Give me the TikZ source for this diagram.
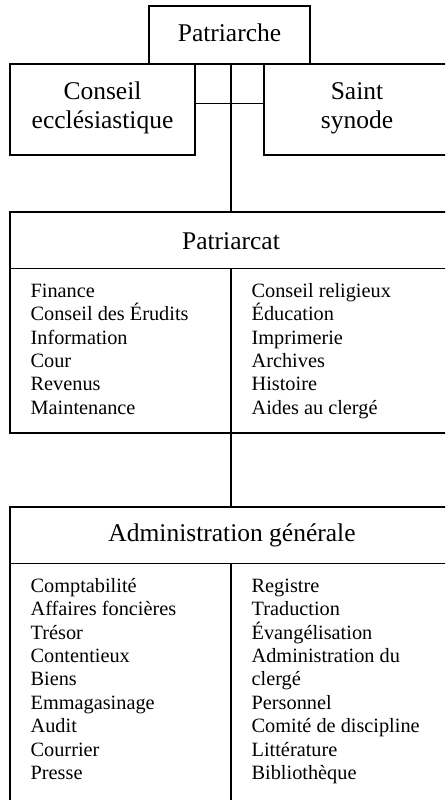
\documentclass[tikz,border=0pt]{standalone}
\usepackage{fontspec}
\setmainfont{Liberation Serif}
\usetikzlibrary{calc}
\begin{document}
\begin{tikzpicture}[x=1pt,y=-1pt,
  line width=1.3pt,
  box/.style={draw, rectangle, inner sep=0pt, outer sep=0pt, anchor=north west},
  hdr/.style={inner sep=0pt, font=\fontsize{25.5}{30}\selectfont, anchor=base},
  itm/.style={inner sep=0pt, font=\fontsize{20.3}{23.4}\selectfont, anchor=base west}]
\useasboundingbox (0,0) rectangle (445,800);
\clip (0,0) rectangle (445,800);
% boxes
\node[box, minimum width=161, minimum height=58] (pat) at (149,6) {};
\node[box, minimum width=185, minimum height=91] (cons) at (10,64) {};
\node[box, minimum width=186, minimum height=91] (syn) at (264,64) {};
\node[box, minimum width=442, minimum height=221] (patc) at (10,212) {};
\node[box, minimum width=442, minimum height=323] (adm) at (10,507) {};
% titles
\node[hdr] (tpat) at (229.5,41.7) {Patriarche};
\node[hdr] (tcons1) at (102.5,99) {Conseil};
\node[hdr] (tcons2) at (102.5,128.5) {ecclésiastique};
\node[hdr] (tsyn1) at (357,99) {Saint};
\node[hdr] (tsyn2) at (357,128.5) {synode};
\node[hdr] (tpatc) at (231,249.3) {Patriarcat};
\node[hdr] (tadm) at (232,541) {Administration générale};
% header rules and dividers
\coordinate (patcH) at (0,268.3);
\coordinate (admH) at (0,563.3);
\coordinate (mid) at (0,103.3);
\draw (patc.west |- patcH) -- (patc.east |- patcH);
\draw (adm.west |- admH) -- (adm.east |- admH);
\draw (patc.north |- patcH) -- (patc.south);
\draw (adm.north |- admH) -- (adm.south);
% connectors
\draw (pat.south -| patc.north) -- (patc.north);
\draw (cons.east |- mid) -- (syn.west |- mid);
\draw (patc.south) -- (adm.north);
% items
\foreach \t [count=\i from 0] in {Finance, Conseil des Érudits, Information, Cour, Revenus, Maintenance}
  \node[itm] (pl\i) at (30,{297.3+23.35*\i}) {\t};
\foreach \t [count=\i from 0] in {Conseil religieux, Éducation, Imprimerie, Archives, Histoire, Aides au clergé}
  \node[itm] (pr\i) at (251,{297.3+23.35*\i}) {\t};
\foreach \t [count=\i from 0] in {Comptabilité, Affaires foncières, Trésor, Contentieux, Biens, Emmagasinage, Audit, Courrier, Presse}
  \node[itm] (al\i) at (30,{592.3+23.4*\i}) {\t};
\foreach \t [count=\i from 0] in {Registre, Traduction, Évangélisation, Administration du, clergé, Personnel, Comité de discipline, Littérature, Bibliothèque}
  \node[itm] (ar\i) at (251,{592.3+23.4*\i}) {\t};
\end{tikzpicture}
\end{document}
